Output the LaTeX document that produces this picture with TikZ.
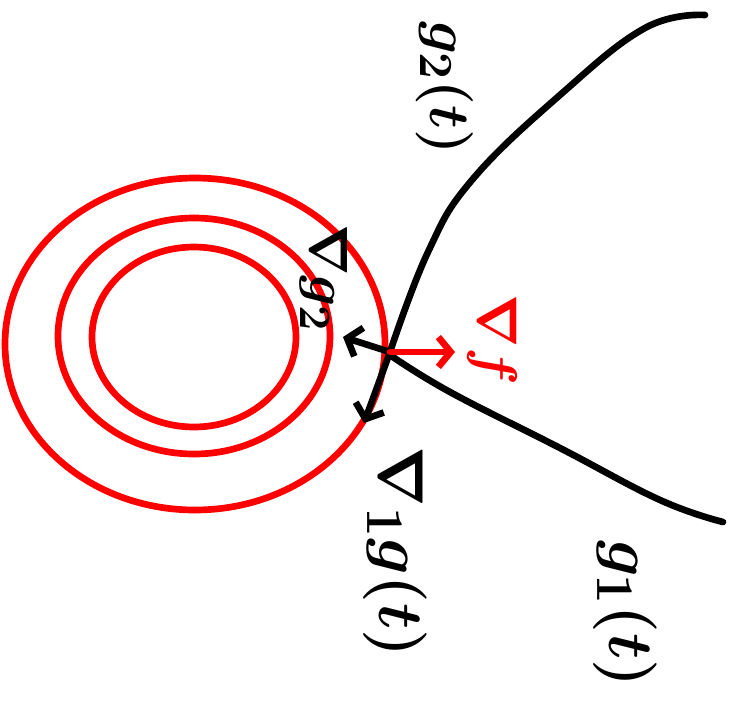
\documentclass[tikz,border=0pt]{standalone}
\usetikzlibrary{arrows.meta,positioning}

\begin{document}
\begin{tikzpicture}[x=0.02cm, y=-0.02cm, line width=3.8pt, line cap=round, line join=round]
                \tikzstyle{lvl} = [draw=red]
                \tikzstyle{crv} = [draw=black]
                \tikzstyle{grad} = [draw, -{Straight Barb[length=7pt,width=17pt]}]
                \tikzstyle{lbl} = [rotate=-90, inner sep=0pt, scale=1.45, font=\Huge\boldmath]
                \useasboundingbox (0,0) rectangle (734,711);

                % level sets of f
                \draw [lvl] (195,344) ellipse [x radius=190, y radius=166];
                \draw [lvl] (194,336) ellipse [x radius=136, y radius=118];
                \draw [lvl] (194,337) ellipse [x radius=102, y radius=90];

                \coordinate (x) at (390,352);
                \coordinate (dg2) at (343,337);
                \coordinate (dg1) at (364,423);
                \coordinate (df) at (455,352);

                % constraint curves
                \draw [crv] plot [smooth, tension=0.7] coordinates {(705,15) (645,28) (560,95) (472,180) (428,252) (390,352)};
                \draw [crv] plot [smooth, tension=0.7] coordinates {(390,355) (450,392) (560,448) (660,500) (723,522)};

                \draw [grad] (x) -- (dg2);
                \draw [grad] (x) -- (dg1);
                \draw [grad, red] (x) -- (df);

                \node [lbl, scale=0.9] (g2lbl) at (445,88) {$g_2(t)$};
                \node [lbl, scale=0.85] (dg2lbl) at (324,278) {$\nabla g_2$};
                \node [lbl, text=red, scale=0.88] (dflbl) at (492,340) {$\nabla f$};
                \node [lbl] (dg1lbl) at (395,552) {$\nabla_1 g(t)$};
                \node [lbl] (g1lbl) at (625,614) {$g_1(t)$};
            \end{tikzpicture}
\end{document}
